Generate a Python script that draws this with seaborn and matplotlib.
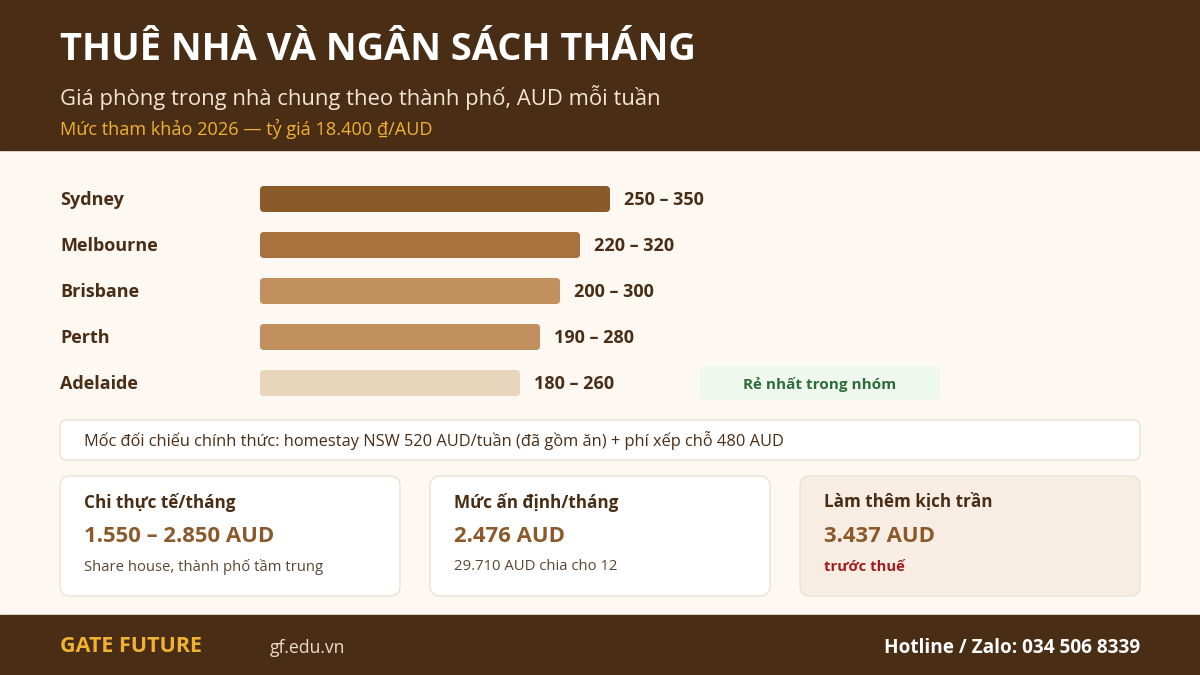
import matplotlib
matplotlib.use("Agg")
import matplotlib.pyplot as plt
from matplotlib.patches import FancyBboxPatch, Rectangle
import seaborn as sns
import pandas as pd

# data
cities = ["Sydney", "Melbourne", "Brisbane", "Perth", "Adelaide"]
rent_low = [250, 220, 200, 190, 180]
rent_high = [350, 320, 300, 280, 260]
bar_colors = ["#8b5a2b", "#a8713d", "#c1905e", "#c1905e", "#e8d5bb"]

card_titles = ["Chi thực tế/tháng", "Mức ấn định/tháng", "Làm thêm kịch trần"]
card_values = ["1.550 – 2.850 AUD", "2.476 AUD", "3.437 AUD"]
card_notes = ["Share house, thành phố tầm trung", "29.710 AUD chia cho 12", "trước thuế"]

DARK = "#4a2d15"
BG = "#fdf8f2"
GOLD = "#f0b232"
TEXT = "#4a2d15"

sns.set_theme(style="white")
plt.rcParams["font.family"] = ["Open Sans", "DejaVu Sans"]

fig = plt.figure(figsize=(12, 6.75), dpi=100)
fig.patch.set_facecolor(BG)

# background canvas in pixel coords
bg = fig.add_axes([0, 0, 1, 1])
bg.set_xlim(0, 1200)
bg.set_ylim(675, 0)
bg.axis("off")
bg.add_patch(Rectangle((0, 0), 1200, 150, color=DARK, zorder=0))
bg.add_patch(Rectangle((0, 615), 1200, 60, color=DARK, zorder=0))

bg.text(60, 50, "THUÊ NHÀ VÀ NGÂN SÁCH THÁNG", color="white", fontsize=27.4,
        fontweight="bold", va="center", ha="left")
bg.text(60, 98, "Giá phòng trong nhà chung theo thành phố, AUD mỗi tuần",
        color="#f3e6d6", fontsize=15.8, va="center", ha="left")
bg.text(60, 129, "Mức tham khảo 2026 — tỷ giá 18.400 ₫/AUD", color=GOLD,
        fontsize=13.1, va="center", ha="left")

# badge next to Adelaide
bg.add_patch(FancyBboxPatch((700, 366), 240, 34, boxstyle="round,pad=0,rounding_size=6",
                            fc="#eef8ef", ec="none"))
bg.text(820, 384, "Rẻ nhất trong nhóm", color="#2e6b3a", fontsize=11,
        fontweight="bold", ha="center", va="center")

# reference box
bg.add_patch(FancyBboxPatch((60, 420), 1080, 40, boxstyle="round,pad=0,rounding_size=6",
                            fc="white", ec="#ece2d4", lw=1))
bg.text(84, 441, "Mốc đối chiếu chính thức: homestay NSW 520 AUD/tuần (đã gồm ăn) + phí xếp chỗ 480 AUD",
        color=TEXT, fontsize=11.8, ha="left", va="center")

# cards
card_x = [60, 430, 800]
for i, x in enumerate(card_x):
    fc = "#f8ede3" if i == 2 else "white"
    bg.add_patch(FancyBboxPatch((x, 476), 340, 120, boxstyle="round,pad=0,rounding_size=10",
                                fc=fc, ec="#ece2d4", lw=1))
    bg.text(x + 24, 502, card_titles[i], color=TEXT, fontsize=12.3,
            fontweight="bold", ha="left", va="center")
    bg.text(x + 24, 536, card_values[i], color="#8b5a2b", fontsize=15.9,
            fontweight="bold", ha="left", va="center")
    if i == 2:
        bg.text(x + 24, 567, card_notes[i], color="#a31f1f", fontsize=10.7,
                fontweight="bold", ha="left", va="center")
    else:
        bg.text(x + 24, 567, card_notes[i], color="#5a4632", fontsize=10.7,
                ha="left", va="center")

# footer
bg.text(60, 647, "GATE FUTURE", color=GOLD, fontsize=15.5, fontweight="bold",
        ha="left", va="center")
bg.text(270, 648, "gf.edu.vn", color="#e8dccb", fontsize=12.7, ha="left", va="center")
bg.text(1140, 648, "Hotline / Zalo: 034 506 8339", color="white", fontsize=13.7,
        fontweight="bold", ha="right", va="center")

# city labels
for i, c in enumerate(cities):
    bg.text(60, 200 + 46 * i, c, color=TEXT, fontsize=13, fontweight="bold",
            ha="left", va="center")

# bar chart: 1 px per AUD, starting at x=260
df = pd.DataFrame({"city": cities, "high": rent_high})
ax = fig.add_axes([260 / 1200, 1 - 406 / 675, 700 / 1200, 230 / 675])
ax.patch.set_alpha(0)
sns.barplot(data=df, x="high", y="city", hue="city", palette=bar_colors,
            saturation=1, legend=False, width=26 / 46, ax=ax, orient="h")
ax.set_xlim(0, 700)
ax.set_ylim(4.5, -0.5)
ax.axis("off")

# swap plain rectangles for rounded ones
for p in list(ax.patches):
    x0, y0, w, h = p.get_x(), p.get_y(), p.get_width(), p.get_height()
    fc = p.get_facecolor()
    p.set_visible(False)
    ax.add_patch(FancyBboxPatch((x0, y0), w, h,
                                boxstyle="round,pad=0,rounding_size=4",
                                mutation_aspect=1 / 46, fc=fc, ec="none"))

for i, (lo, hi) in enumerate(zip(rent_low, rent_high)):
    ax.text(hi + 14, i + 0.02, f"{lo} – {hi}", color=TEXT, fontsize=13,
            fontweight="bold", ha="left", va="center")

fig.savefig("out.png", dpi=100, facecolor=BG)
